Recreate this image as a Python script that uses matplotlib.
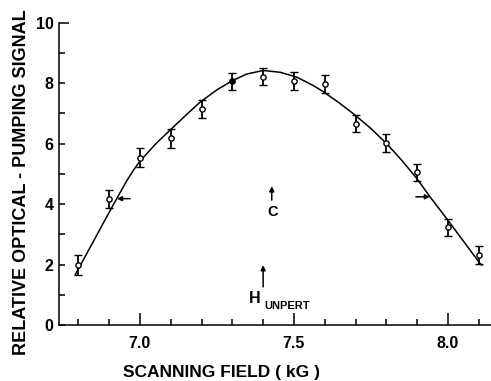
import matplotlib
matplotlib.use("Agg")
import matplotlib.pyplot as plt
from matplotlib.ticker import MultipleLocator

plt.rcParams['font.family'] = ['Liberation Sans', 'DejaVu Sans']
plt.rcParams['font.weight'] = 'bold'

# measured signal with error bars
field = [6.8, 6.9, 7.0, 7.1, 7.2, 7.3, 7.4, 7.5, 7.6, 7.7, 7.8, 7.9, 8.0, 8.1]
signal = [1.98, 4.18, 5.54, 6.17, 7.15, 8.06, 8.22, 8.06, 7.97, 6.66, 6.02, 5.06, 3.24, 2.31]
sig_err = [0.32, 0.30, 0.32, 0.33, 0.30, 0.28, 0.28, 0.30, 0.30, 0.29, 0.29, 0.28, 0.28, 0.30]
filled = [False, False, False, False, False, True, False, False, False, False, False, False, False, False]

# fitted line shape
fit_field = [6.79, 6.85, 6.892, 6.925, 6.957, 6.98, 7.0, 7.05, 7.097, 7.15, 7.195, 7.25, 7.298,
             7.346, 7.4, 7.455, 7.509, 7.563, 7.595, 7.644, 7.693, 7.75, 7.801, 7.85,
             7.898, 7.942, 7.996, 8.05, 8.104, 8.11]
fit_signal = [1.67, 2.79, 3.58, 4.19, 4.77, 5.14, 5.42, 5.98, 6.44, 6.95, 7.37, 7.78, 8.07,
              8.30, 8.42, 8.36, 8.20, 7.92, 7.72, 7.37, 6.99, 6.50, 6.00, 5.45,
              4.86, 4.24, 3.52, 2.78, 2.04, 1.98]

# half-maximum markers (tail, tip) and line-centre arrows
half_left = [(6.968, 4.18), (6.925, 4.18)]
half_right = [(7.896, 4.24), (7.942, 4.24)]
c_arrow = [(7.428, 4.13), (7.428, 4.59)]
h_arrow = [(7.40, 1.26), (7.40, 1.98)]

fig = plt.figure(figsize=(4.91, 3.81), dpi=100)
ax = fig.add_axes([59 / 491, 56 / 381, 432 / 491, 302.3 / 381])

ax.plot(fit_field, fit_signal, color='black', lw=1.1, zorder=2)

for x, y, e, f in zip(field, signal, sig_err, filled):
    ax.errorbar(x, y, yerr=e, fmt='o', ms=3.8, mew=1.0, color='black',
                mfc='black' if f else 'white', mec='black',
                ecolor='black', elinewidth=1.3, capsize=2.6, capthick=1.3, zorder=3)

arrow_kw = dict(arrowstyle='-|>', color='black', lw=1.1, mutation_scale=7,
                shrinkA=0, shrinkB=0)
for tail, tip in (half_left, half_right, c_arrow, h_arrow):
    ax.annotate('', xy=tip, xytext=tail, arrowprops=arrow_kw)

ax.text(7.43, 3.74, 'C', ha='center', va='center', fontsize=10.5)
ax.text(7.373, 0.88, 'H', ha='center', va='center', fontsize=11.5)
ax.text(7.404, 0.62, 'UNPERT', ha='left', va='center', fontsize=8)

ax.set_xlim(6.737, 8.14)
ax.set_ylim(0, 10)
ax.spines['top'].set_visible(False)
ax.spines['right'].set_visible(False)
ax.spines['left'].set_linewidth(1.1)
ax.spines['bottom'].set_linewidth(1.1)

ax.xaxis.set_minor_locator(MultipleLocator(0.1))
ax.yaxis.set_minor_locator(MultipleLocator(1))
ax.set_xticks([7.0, 7.5, 8.0])
ax.set_xticklabels(['7.0', '7.5', '8.0'])
ax.set_yticks([0, 2, 4, 6, 8, 10])
ax.set_yticklabels(['0', '2', '4', '6', '8', '10'])

ax.tick_params(axis='x', which='major', direction='in', length=9, width=1.1, pad=8, labelsize=11.5)
ax.tick_params(axis='x', which='minor', direction='in', length=4.5, width=1.1)
ax.tick_params(axis='y', which='major', direction='in', length=4, width=1.1, pad=4, labelsize=11.5)
ax.tick_params(axis='y', which='minor', direction='in', length=4, width=1.1)
ax.yaxis.get_major_ticks()[-1].tick1line.set_markersize(7.5)

fig.text(22 / 491, 1 - 182 / 381, 'RELATIVE OPTICAL - PUMPING SIGNAL', rotation=90,
         ha='center', va='center', fontsize=13)
fig.text(221.7 / 491, 1 - 373 / 381, 'SCANNING FIELD ( kG )', ha='center', va='center',
         fontsize=12.5)

fig.savefig('out.png', dpi=100)
